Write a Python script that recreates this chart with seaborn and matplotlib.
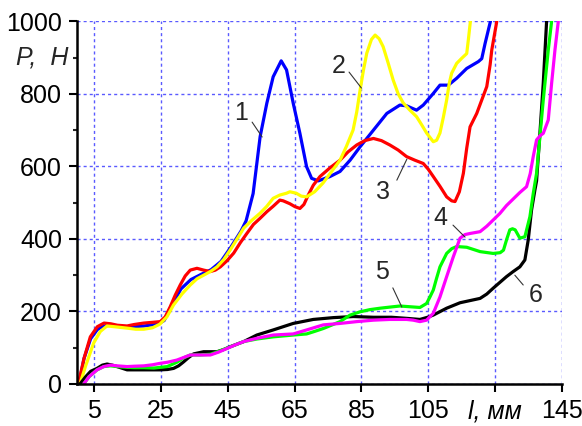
import pandas as pd
import matplotlib
matplotlib.use("Agg")
import matplotlib.pyplot as plt
import matplotlib.transforms as mtransforms
import seaborn as sns

# Load P (N) versus travel l (mm) for six specimens
l1 = [0.5, 2, 4, 6, 8, 10, 13, 16, 20, 24, 26, 28, 31, 34, 37, 40, 43, 46, 49, 50.5,
      52.6, 54.7, 56.7, 58.6, 61, 62.6, 64.6, 66.6, 68.6, 70.1, 72.1, 75.6, 78.6, 81.6,
      84.6, 88.6, 92.6, 96.5, 98.5, 101.5, 103.5, 106.5, 108.5, 111, 113.5, 116.5, 120,
      121, 122, 123.6]
p1 = [0, 70, 125, 150, 160, 162, 158, 157, 160, 165, 175, 212, 262, 288, 302, 315, 338,
      378, 422, 450, 525, 682, 774, 847, 891, 866, 774, 691, 599, 567, 560, 572, 586, 617,
      654, 700, 746, 769, 767, 755, 769, 801, 824, 824, 843, 870, 889, 897, 939, 1000]

l2 = [0.8, 2.5, 4.9, 6.9, 8.9, 11, 14.9, 17.5, 19.9, 22.5, 24.7, 26.8, 28.8, 31.3, 33.8,
      35.8, 37.8, 39.8, 41.8, 43.8, 45.7, 47.8, 49.8, 52.3, 54.7, 56.7, 58.6, 60.6, 62.6,
      63.6, 65.5, 67, 68.6, 71, 73.5, 76, 78.6, 80.5, 82.5, 83.6, 84.6, 85.6, 86.6, 88,
      89.1, 90.3, 91.5, 93, 94.5, 96, 97.5, 99.5, 101.5, 103, 104.5, 106.5, 107.5, 108.5,
      109.5, 110.5, 111.3, 112, 113.5, 115, 116.5, 117, 117.6]
p2 = [0, 50, 113, 145, 160, 158, 154, 151, 151, 155, 165, 185, 218, 248, 273, 290, 300,
      310, 323, 343, 369, 400, 430, 452, 471, 490, 512, 521, 526, 530, 526, 518, 516, 530,
      554, 585, 617, 655, 700, 750, 810, 865, 912, 950, 962, 952, 930, 885, 838, 800, 775,
      755, 737, 715, 692, 668, 672, 692, 735, 783, 830, 857, 884, 898, 911, 950, 1000]

l3 = [0.3, 2, 3.9, 6, 8, 10, 12, 14.9, 17, 19.9, 22.5, 24.8, 26.3, 27.8, 29.3, 30.8, 32.3,
      33.8, 35.8, 37.8, 39.8, 41.3, 42.8, 44.8, 46.8, 48.8, 50.8, 52.7, 54.7, 56.7, 58.6,
      60.6, 61.6, 63.6, 65.1, 66.6, 67.8, 69.1, 70.6, 72.6, 75.6, 78.6, 81, 83.6, 86, 88.6,
      91, 93.5, 96, 98.5, 101, 103.5, 105, 106.5, 108.5, 110.5, 112, 113, 114.3, 115.5,
      116.5, 117.5, 119.5, 121, 122.5, 123.5, 124, 125.5]
p3 = [0, 70, 130, 158, 168, 166, 162, 160, 164, 168, 170, 172, 185, 213, 245, 273, 298,
      314, 319, 314, 310, 314, 323, 340, 361, 390, 416, 440, 457, 475, 490, 507, 505, 497,
      489, 484, 495, 521, 548, 572, 596, 617, 640, 659, 671, 677, 671, 659, 645, 627, 617,
      608, 592, 572, 545, 516, 505, 503, 530, 581, 650, 709, 746, 783, 820, 880, 921, 1000]

l4 = [1.9, 3.5, 5.9, 7.9, 9.9, 12, 14.9, 17, 19.9, 22.5, 24.8, 27, 29.8, 31.8, 33.8, 36.8,
      39.8, 42.3, 44.8, 47.3, 49.8, 53.7, 58.6, 64.6, 68.6, 73.6, 78.6, 83.6, 88.6, 93.5,
      98.5, 100.5, 102.5, 104.5, 106.5, 108.5, 110.5, 112.5, 114.5, 116, 117.5, 120.5,
      122.5, 124.4, 126.4, 128.4, 130.4, 132.4, 134.4, 135.5, 136.4, 137.4, 138.5, 139.4,
      140.9, 141.9, 142.9, 143.9]
p4 = [0, 20, 39, 48, 52, 50, 48, 49, 50, 53, 57, 60, 66, 73, 80, 80, 80, 88, 98, 108, 117,
      126, 135, 138, 149, 163, 167, 172, 176, 178, 178, 176, 172, 176, 195, 240, 296, 351,
      402, 412, 415, 420, 435, 452, 470, 492, 510, 528, 544, 580, 627, 673, 685, 691, 728,
      829, 921, 1000]

l5 = [1.9, 3.5, 5.9, 7.9, 9.9, 12, 14.9, 17, 19.9, 22.9, 26.9, 29.8, 31.8, 33.8, 36.8,
      39.8, 42.3, 44.8, 47.3, 49.8, 53.7, 58.6, 64.6, 68.6, 71, 73.6, 76, 78.6, 81.6, 84.6,
      87.5, 90.6, 93.5, 96.5, 99.5, 102.5, 104.5, 105.5, 106.5, 107.5, 108.5, 110.5, 112,
      113.5, 116.5, 120.5, 124.4, 126.5, 127.5, 128.5, 129.4, 130.2, 131, 132.4, 133.9,
      135.4, 136.4, 137.4, 139.4, 140.9, 141.9]
p5 = [0, 20, 39, 48, 50, 48, 46, 45, 45, 44, 48, 60, 72, 80, 80, 82, 90, 99, 108, 117, 124,
      130, 135, 138, 145, 153, 162, 172, 190, 199, 205, 209, 212, 215, 213, 211, 222, 240,
      259, 292, 323, 360, 373, 379, 377, 365, 360, 362, 369, 400, 425, 428, 425, 402, 406,
      461, 525, 581, 783, 921, 1000]

l6 = [0.8, 2.5, 4, 5.9, 7.5, 8.9, 10.5, 11.9, 14.9, 19.9, 24.8, 27, 28.8, 30.3, 31.8, 33.3,
      34.8, 37.8, 41.8, 43.8, 45.8, 49.8, 53.7, 58.6, 64.6, 70.6, 76.6, 82.6, 88.6, 94,
      98.5, 102.5, 104.8, 106.5, 110.5, 114.5, 117.5, 120.5, 122.5, 124.4, 126.4, 128.4,
      130.4, 132.4, 133.9, 134.9, 135.9, 136.9, 137.4, 138.4, 139.4, 140.4]
p6 = [0, 20, 35, 43, 52, 55, 52, 48, 39, 39, 39, 40, 43, 50, 61, 73, 83, 89, 89, 95, 103,
      117, 135, 149, 167, 178, 183, 186, 184, 184, 181, 178, 184, 190, 209, 224, 230, 236,
      248, 264, 280, 296, 310, 323, 342, 397, 480, 535, 560, 692, 829, 1000]

curve_names = ["1", "2", "3", "4", "5", "6"]
curve_colors = ["#0000ff", "#ffff00", "#ff0000", "#ff00ff", "#00ff00", "#000000"]

x_ticks = [5, 25, 45, 65, 85, 105, 125, 145]
x_tick_labels = ["5", "25", "45", "65", "85", "105", "l, мм", "145"]
y_ticks = [0, 200, 400, 600, 800, 1000]
y_tick_labels = ["0", "200", "400", "600", "800", "1000"]

# curve number labels: text position and leader line (from, to)
label_text = ["1", "2", "3", "4", "5", "6"]
label_xy = [(49.0, 747), (78.3, 877), (91.4, 529), (108.5, 457), (91.1, 309), (137.0, 245)]
leader_from = [(52.3, 722), (81.3, 860), (95.6, 562), (112.4, 438), (94.4, 265), (133.4, 273)]
leader_to = [(55.3, 681), (85.0, 816), (98.6, 620), (116.0, 405), (97.1, 212), (130.9, 300)]

series = {"1": (l1, p1), "2": (l2, p2), "3": (l3, p3),
          "4": (l4, p4), "5": (l5, p5), "6": (l6, p6)}
df = pd.concat(
    [pd.DataFrame({"l": x, "P": p, "curve": name}) for name, (x, p) in series.items()],
    ignore_index=True,
)

sns.set_style("ticks")
plt.rcParams["font.family"] = ["Liberation Sans", "DejaVu Sans"]

fig = plt.figure(figsize=(5.82, 4.26), dpi=100)
ax = fig.add_axes([0.1328, 0.0986, 0.8328, 0.8514])

palette = dict(zip(curve_names, curve_colors))
draw_order = ["1", "3", "2", "6", "5", "4"]
sns.lineplot(data=df, x="l", y="P", hue="curve", hue_order=draw_order,
             palette=palette, sort=False, estimator=None, linewidth=2.3,
             legend=False, ax=ax, solid_joinstyle="round", solid_capstyle="round")

ax.set_xlim(0, 145)
ax.set_ylim(0, 1000)
ax.set_xlabel("")
ax.set_ylabel("")

ax.set_xticks(x_ticks)
ax.set_xticklabels(x_tick_labels)
ax.get_xticklabels()[6].set_fontstyle("italic")
ax.set_yticks(y_ticks)
ax.set_yticklabels(y_tick_labels)
ax.set_yticks([100, 300, 500, 700, 900], minor=True)

ax.grid(True, which="major", color="#5a5aff", linestyle=(0, (2.2, 2.2)), linewidth=1.0)
for side in ("top", "right"):
    ax.spines[side].set_visible(False)
for side in ("left", "bottom"):
    ax.spines[side].set_linewidth(1.8)
    ax.spines[side].set_color("black")

ax.tick_params(axis="both", which="major", direction="out", length=6, width=1.5,
               labelsize=18, pad=5, colors="black")
ax.tick_params(axis="y", which="minor", direction="out", length=3, width=1.5)

trans = mtransforms.blended_transform_factory(ax.transAxes, ax.transData)
ax.text(-0.019, 900, "P,  H", transform=trans, ha="right", va="center",
        fontsize=18, fontstyle="italic")

for txt, (tx, ty), (ax0, ay0), (ax1, ay1) in zip(label_text, label_xy, leader_from, leader_to):
    ax.text(tx, ty, txt, ha="center", va="center", fontsize=18)
    ax.plot([ax0, ax1], [ay0, ay1], color="#333333", linewidth=0.8)

fig.savefig("out.png", dpi=100)
